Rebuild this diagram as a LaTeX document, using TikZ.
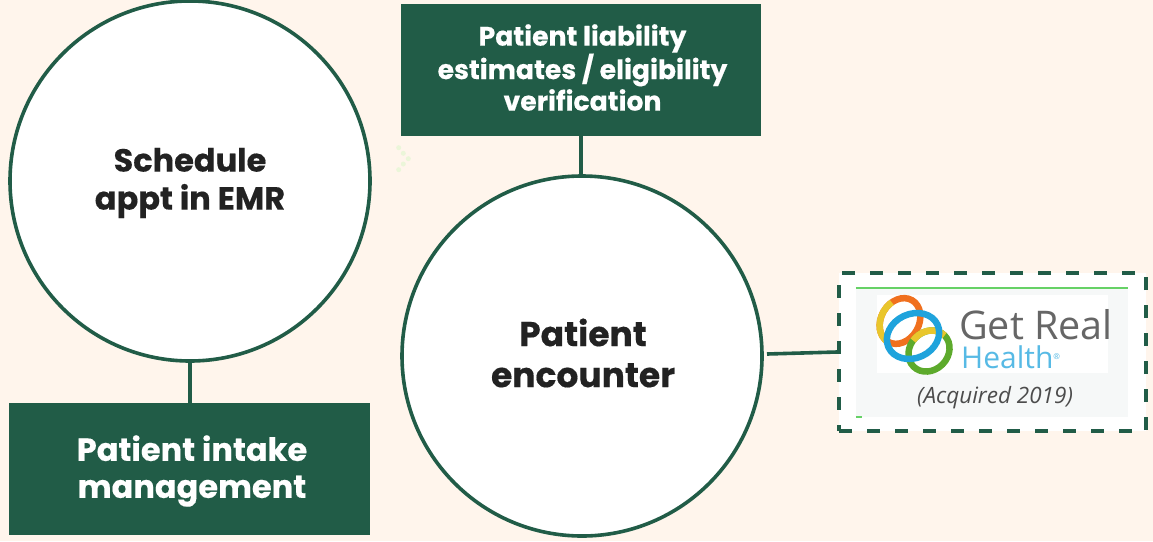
\documentclass[tikz,border=0pt]{standalone}
\usepackage{xcolor}
\usepackage{fontspec}
\setmainfont{Poppins}[BoldFeatures={FakeBold=0.35}]
\newfontfamily\logofont{Open Sans}
\usetikzlibrary{arrows.meta, positioning}
\definecolor{pinegreen}{HTML}{215C47}
\definecolor{creambg}{HTML}{FFF5EC}
\definecolor{inkdark}{HTML}{222222}
\definecolor{logogrey}{HTML}{F6F8F8}
\definecolor{ringblue}{HTML}{1FA3DC}
\definecolor{ringorange}{HTML}{F0701E}
\definecolor{ringyellow}{HTML}{E9C62C}
\definecolor{ringgreen}{HTML}{5DAA2C}
\tikzset{
  stepcircle/.style={draw=pinegreen, line width=3.6pt, circle, fill=white, minimum size=360pt, inner sep=0pt},
  stepbox/.style={fill=pinegreen, rectangle, inner sep=0pt, minimum height=132pt},
  steptext/.style={align=center, inner sep=0pt, text=inkdark, font=\bfseries},
  link/.style={draw=pinegreen, line width=3.6pt},
  ring/.style={line width=6.5pt},
  fadedot/.style={circle, fill=green!8!creambg, minimum size=5pt, inner sep=0pt},
}
\begin{document}
\begin{tikzpicture}[x=1pt, y=-1pt]
    \fill[creambg] (0,0) rectangle (1153,541);
    \useasboundingbox (0,0) rectangle (1153,541);

    % Left column
    \node[stepcircle] (schedule) at (190,181) {};
    \node[stepbox, minimum width=361pt] (intake) at (189.5,469) {};
    \draw[link] (schedule.south) -- (schedule.south |- intake.north);
    \node[steptext, font=\bfseries\fontsize{32}{38}\selectfont] (scheduletext) at (190,183) {Schedule\\appt in EMR};
    \node[steptext, text=white, font=\bfseries\fontsize{32}{37}\selectfont] (intaketext) at (192,471) {Patient intake\\management};

    % Middle column
    \node[stepcircle] (encounter) at (582,356) {};
    \node[stepbox, minimum width=360pt] (liability) at (581,70) {};
    \draw[link] (liability.south) -- (liability.south |- encounter.north);
    \node[steptext, font=\bfseries\fontsize{34.5}{41}\selectfont] (encountertext) at (583,353) {Patient\\encounter};
    \node[steptext, text=white, font=\bfseries\fontsize{26.7}{31.5}\selectfont] (liabilitytext) at (582.5,67.5) {Patient liability\\estimates / eligibility\\verification};

    % Acquisition box with logo
    \node[draw=pinegreen, line width=3.6pt, dash pattern=on 13pt off 15pt, fill=white, rectangle, minimum width=307pt, minimum height=158pt, inner sep=0pt] (acquired) at (992.5,352) {};
    \node[fill=logogrey, rectangle, minimum width=272pt, minimum height=129pt, inner sep=0pt] (card) at (992,352.5) {};
    \draw[green!70!black!60, line width=1.5pt] (card.north west) -- (card.north east);
    \draw[green!70!black!60, line width=1.5pt] (card.south west) -- ++(6,0);
    \node[fill=white, rectangle, minimum width=231pt, minimum height=78pt, inner sep=0pt] (logo) at (992.5,334) {};
    \draw[link] (767,354) coordinate (start) -- (acquired.west);

    % Rings of the logo
    \begin{scope}[shift={(900,321)}, rotate=60]
      \draw[ring, ringorange] (0,0) ellipse (24pt and 19pt);
      \draw[ring, ringyellow] (-24,0) arc[start angle=180, end angle=300, x radius=24, y radius=19];
    \end{scope}
    \begin{scope}[shift={(929,351)}, rotate=45]
      \draw[ring, ringgreen] (0,0) ellipse (22pt and 19pt);
      \draw[ring, ringyellow] (22,0) arc[start angle=0, end angle=-100, x radius=22, y radius=19];
    \end{scope}
    \begin{scope}[shift={(913,336)}, rotate=25]
      \draw[ring, ringblue] (0,0) ellipse (27pt and 22pt);
    \end{scope}
    \node[font=\logofont\fontsize{39.5}{40}\selectfont, text=black!60, inner sep=0pt, anchor=west] (getreal) at (959,325) {Get Real};
    \node[font=\logofont\fontsize{30}{30}\selectfont, text=ringblue!75!white, inner sep=0pt, anchor=west] (health) at (961,357) {Health\raisebox{9pt}{\fontsize{8}{8}\selectfont ®}};
    \node[font=\logofont\itshape\fontsize{22.5}{24}\selectfont, text=black!70, inner sep=0pt] (year) at (995,398) {(Acquired 2019)};

    % Faint dots
    \foreach \px/\py [count=\i] in {398.7/147.7, 403.3/153.3, 408.3/158.7, 403.3/164, 398.7/169.7}
      \node[fadedot] (dot\i) at (\px,\py) {};
\end{tikzpicture}
\end{document}
